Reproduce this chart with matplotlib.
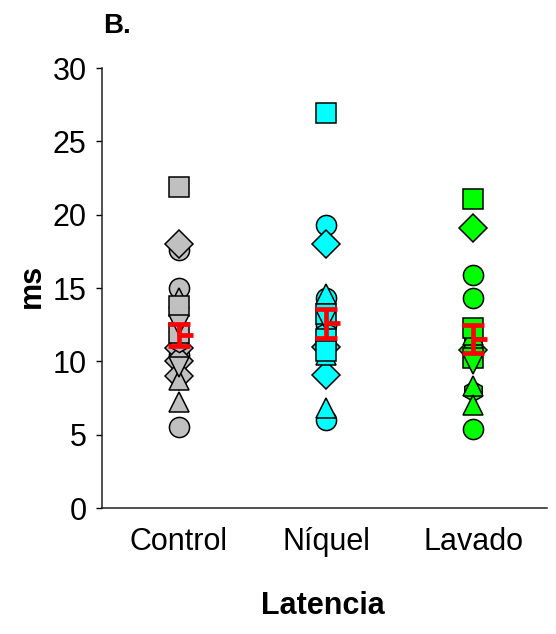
import matplotlib
matplotlib.use("Agg")
import matplotlib.pyplot as plt

plt.rcParams['font.family'] = ['Liberation Sans', 'DejaVu Sans']

categories = ['Control', 'Níquel', 'Lavado']
colors = ['#C0C0C0', '#00FFFF', '#00FF00']

control_vals = [21.9, 18.0, 17.6, 15.0, 14.3, 13.8, 12.5, 11.9, 11.3, 10.9, 10.4, 10.0, 9.6, 9.0, 8.7, 7.2, 5.5]
control_marks = ['s', 'D', 'o', 'o', '^', 's', 'v', 's', 'h', 'D', 'o', 'D', 'v', 'D', '^', '^', 'o']

niquel_vals = [26.9, 19.3, 18.0, 14.6, 14.3, 13.2, 12.8, 12.5, 12.0, 11.5, 11.0, 10.7, 10.4, 9.1, 6.8, 6.0]
niquel_marks = ['s', 'o', 'D', '^', 'o', 's', 'v', 'o', 'h', 's', 'D', 's', '^', 'D', '^', 'o']

lavado_vals = [21.1, 19.1, 15.9, 14.3, 12.3, 11.8, 11.3, 10.8, 10.2, 9.8, 8.3, 8.0, 7.0, 5.4]
lavado_marks = ['s', 'D', 'o', 'o', 's', '^', 'h', 'D', 's', 'v', '^', 'h', '^', 'o']

means = [11.8, 12.6, 11.5]
sems = [0.75, 1.0, 0.95]

yticks = [0, 5, 10, 15, 20, 25, 30]

groups = [(control_vals, control_marks), (niquel_vals, niquel_marks), (lavado_vals, lavado_marks)]
draw_order = ['o', 'D', 'h', '^', 's', 'v']

fig = plt.figure(figsize=(5.56, 6.34), dpi=100)
ax = fig.add_axes([102/556, 1-508/634, 445/556, 440/634])

z = 2
for i, (vals, marks) in enumerate(groups):
    xpos = i + 1
    for m in draw_order:
        for v, mk in zip(vals, marks):
            if mk == m:
                ax.plot([xpos], [v], marker=mk, markersize=14.5 if mk != 'D' else 14,
                        markerfacecolor=colors[i], markeredgecolor='black',
                        markeredgewidth=1.1, linestyle='none', zorder=z)
                z += 0.01

xs = [1, 2, 3]
ax.errorbar(xs, means, yerr=sems, fmt='none', ecolor='#FF0000', elinewidth=3.4,
            capsize=7.9, capthick=3.4, zorder=10)
ax.hlines(means, [x for x in xs], [x + 0.095 for x in xs], colors='#FF0000',
          linewidth=3.4, zorder=10)

ax.set_xlim(0.48, 3.5)
ax.set_ylim(0, 30)
ax.set_yticks(yticks)
ax.set_xticks(xs)
ax.set_xticklabels(categories)
ax.tick_params(axis='x', length=0, pad=14, labelsize=22)
ax.tick_params(axis='y', length=4, width=1.0, pad=7, labelsize=22)
for s in ['top', 'right']:
    ax.spines[s].set_visible(False)
for s in ['left', 'bottom']:
    ax.spines[s].set_linewidth(1.1)
    ax.spines[s].set_color('#222222')

fig.text(103/556, 1-33/634, 'B.', fontsize=20, fontweight='bold', va='baseline', ha='left')
fig.text(323/556, 1-606/634, 'Latencia', fontsize=22, fontweight='bold', ha='center', va='center')
fig.text(32/556, 1-286/634, 'ms', fontsize=22, fontweight='bold', ha='center', va='center', rotation=90)

fig.savefig('out.png', dpi=100)
